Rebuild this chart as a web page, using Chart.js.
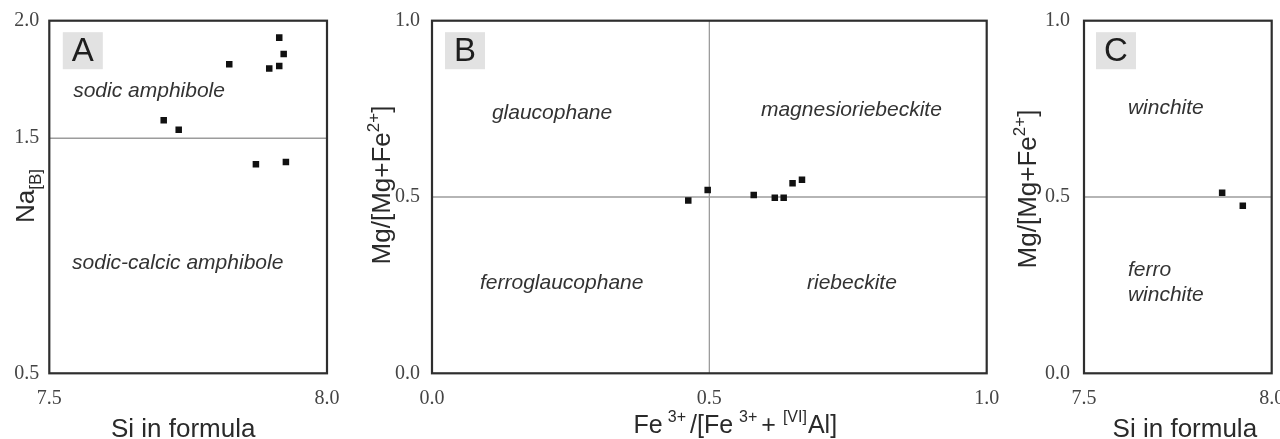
<!DOCTYPE html>
<html><head><meta charset="utf-8">
<script src="https://cdn.jsdelivr.net/npm/chart.js@4.4.1/dist/chart.umd.min.js"></script>
<style>
html,body{margin:0;padding:0;background:#fff;}
#wrap{position:relative;width:1280px;height:439px;overflow:hidden;background:#fff;}
canvas{position:absolute;top:0;}
</style></head><body>
<div id="wrap">
<canvas id="cA" width="345" height="439" style="left:0px"></canvas>
<canvas id="cB" width="660" height="439" style="left:345px"></canvas>
<canvas id="cC" width="275" height="439" style="left:1005px"></canvas>
</div>
<script>
// ---- Data ----
// Panel A: Si in formula vs Na[B]
const siA = [7.914, 7.922, 7.824, 7.896, 7.914, 7.706, 7.733, 7.872, 7.926];
const naA = [1.928, 1.858, 1.815, 1.797, 1.807, 1.576, 1.536, 1.389, 1.399];
// Panel B: Fe3+/[Fe3+ + VIAl] vs Mg/[Mg+Fe2+]
const feB = [0.462, 0.497, 0.580, 0.618, 0.634, 0.650, 0.667];
const mgB = [0.490, 0.520, 0.506, 0.498, 0.498, 0.539, 0.549];
// Panel C: Si in formula vs Mg/[Mg+Fe2+]
const siC = [7.868, 7.923];
const mgC = [0.512, 0.475];

// Axis ranges and tick labels
const siRange = [7.5, 8.0];
const naRange = [0.5, 2.0];
const unitRange = [0.0, 1.0];
const siTicks = [7.5, 8.0];
const naTicks = [0.5, 1.5, 2.0];
const unitTicks = [0.0, 0.5, 1.0];

// Field boundaries
const naBoundary = 1.5;
const mgBoundary = 0.5;
const feBoundary = 0.5;

// Field names
const fieldsA = ["sodic amphibole", "sodic-calcic amphibole"];
const fieldsB = ["glaucophane", "ferroglaucophane", "magnesioriebeckite", "riebeckite"];
const fieldsC = ["winchite", "ferro", "winchite"];
const panelLetters = ["A", "B", "C"];

// ---- Rendering ----
const SANS = '"Liberation Sans", Arial, sans-serif';
const SERIF = '"Liberation Serif", "Times New Roman", serif';

function pts(xs, ys) { return xs.map((x, i) => ({x: x, y: ys[i]})); }

function drawRich(ctx, segs, cx, cy, rot, base) {
  ctx.save();
  ctx.translate(cx, cy);
  if (rot) ctx.rotate(-Math.PI / 2);
  const small = Math.round(base * 0.64);
  const fN = base + 'px ' + SANS, fS = small + 'px ' + SANS;
  let total = 0;
  const ws = segs.map(s => {
    ctx.font = s.k ? fS : fN;
    const w = ctx.measureText(s.t).width + (s.pad || 0);
    total += w; return w;
  });
  let x = -total / 2;
  const by = base * 0.36;
  ctx.textBaseline = 'alphabetic';
  ctx.textAlign = 'left';
  ctx.fillStyle = '#2a2a2a';
  segs.forEach((s, i) => {
    ctx.font = s.k ? fS : fN;
    const dy = s.k === 'sup' ? -base * 0.45 : (s.k === 'sub' ? base * 0.28 : 0);
    ctx.fillText(s.t, x, by + dy);
    x += ws[i];
  });
  ctx.restore();
}

function panelPlugin(p) {
  return {
    id: 'panel' + p.letter,
    beforeDatasetsDraw(chart) {
      const ctx = chart.ctx, a = chart.chartArea;
      const xs = chart.scales.x, ys = chart.scales.y;
      ctx.save();
      ctx.fillStyle = '#e2e2e2';
      ctx.fillRect(a.left + p.boxDx, a.top + 11.5, 40, 37);
      ctx.fillStyle = '#1e1e1e';
      ctx.font = '33px ' + SANS;
      ctx.textAlign = 'center';
      ctx.textBaseline = 'middle';
      ctx.fillText(p.letter, a.left + p.boxDx + 20, a.top + 11.5 + 20);
      ctx.font = 'italic 21px ' + SANS;
      ctx.fillStyle = '#333';
      ctx.textAlign = 'left';
      ctx.textBaseline = 'middle';
      p.labels.forEach(l => {
        ctx.fillText(l.t, xs.getPixelForValue(l.x), ys.getPixelForValue(l.y));
      });
      ctx.restore();
    },
    afterDraw(chart) {
      const ctx = chart.ctx, a = chart.chartArea;
      ctx.save();
      ctx.strokeStyle = '#2e2e2e';
      ctx.lineWidth = 2.2;
      ctx.strokeRect(a.left, a.top, a.right - a.left, a.bottom - a.top);
      ctx.restore();
      const cxm = (a.left + a.right) / 2, cym = (a.top + a.bottom) / 2;
      drawRich(ctx, p.xTitle, cxm + p.xtDx, a.bottom + p.xtDy, false, p.xtSize);
      drawRich(ctx, p.yTitle, a.left + p.ytDx, cym + p.ytDy, true, p.ytSize);
    }
  };
}

function makeChart(id, p) {
  const tickFont = {family: SERIF, size: 20};
  return new Chart(document.getElementById(id), {
    type: 'scatter',
    data: {
      datasets: p.lines.map(l => ({
        type: 'line', data: l, borderColor: '#9c9c9c', borderWidth: 1.3,
        pointRadius: 0, fill: false, order: 2
      })).concat([{
        data: p.points, pointStyle: 'rect', pointRadius: 4.6,
        backgroundColor: '#111', borderWidth: 0, order: 0
      }])
    },
    options: {
      responsive: false, animation: false, devicePixelRatio: 1,
      layout: {padding: {top: 20.7, right: p.rightPad, left: 0, bottom: 0}},
      plugins: {legend: {display: false}, tooltip: {enabled: false}},
      events: [],
      scales: {
        x: {
          type: 'linear', min: p.xRange[0], max: p.xRange[1],
          afterBuildTicks: s => { s.ticks = p.xTicks.map(v => ({value: v})); },
          afterFit: s => { s.height = 439 - 373.3; s.paddingLeft = 0; s.paddingRight = 0; },
          grid: {display: false, drawTicks: false}, border: {display: false},
          ticks: {font: tickFont, color: '#444', padding: 13, autoSkip: false,
                  maxRotation: 0, callback: v => Number(v).toFixed(1)}
        },
        y: {
          type: 'linear', min: p.yRange[0], max: p.yRange[1],
          afterBuildTicks: s => { s.ticks = p.yTicks.map(v => ({value: v})); },
          afterFit: s => { s.width = p.yWidth; s.paddingTop = 0; s.paddingBottom = 0; },
          grid: {display: false, drawTicks: false}, border: {display: false},
          ticks: {font: tickFont, color: '#444', padding: p.yPad, autoSkip: false,
                  callback: v => Number(v).toFixed(1)}
        }
      }
    },
    plugins: [panelPlugin(p)]
  });
}

const mgTitle = [{t: 'Mg/[Mg+Fe'}, {t: '2+', k: 'sup'}, {t: ']'}];
const siTitle = [{t: 'Si in formula'}];

makeChart('cA', {
  letter: panelLetters[0], boxDx: 13.5,
  points: pts(siA, naA),
  lines: [[{x: siRange[0], y: naBoundary}, {x: siRange[1], y: naBoundary}]],
  xRange: siRange, yRange: naRange, xTicks: siTicks, yTicks: naTicks,
  yWidth: 49.3, rightPad: 345 - 327, yPad: 10,
  labels: [
    {t: fieldsA[0], x: 7.543, y: 1.701},
    {t: fieldsA[1], x: 7.541, y: 0.969}
  ],
  xTitle: siTitle, xtDx: -5, xtDy: 54, xtSize: 26,
  yTitle: [{t: 'Na'}, {t: '[B]', k: 'sub'}], ytDx: -24.5, ytDy: -1, ytSize: 26
});

makeChart('cB', {
  letter: panelLetters[1], boxDx: 13,
  points: pts(feB, mgB),
  lines: [[{x: unitRange[0], y: mgBoundary}, {x: unitRange[1], y: mgBoundary}],
          [{x: feBoundary, y: unitRange[0]}, {x: feBoundary, y: unitRange[1]}]],
  xRange: unitRange, yRange: unitRange, xTicks: unitTicks, yTicks: unitTicks,
  yWidth: 432 - 345, rightPad: 1005 - 986.7, yPad: 12,
  labels: [
    {t: fieldsB[0], x: 0.108, y: 0.738},
    {t: fieldsB[1], x: 0.0865, y: 0.256},
    {t: fieldsB[2], x: 0.593, y: 0.747},
    {t: fieldsB[3], x: 0.676, y: 0.256}
  ],
  xTitle: [{t: 'Fe', pad: 5}, {t: '3+', k: 'sup', pad: 4}, {t: '/[Fe', pad: 6},
           {t: '3+', k: 'sup', pad: 4}, {t: '+', pad: 7}, {t: '[VI]', k: 'sup', pad: 1}, {t: 'Al]'}],
  xtDx: 26, xtDy: 51, xtSize: 25,
  yTitle: mgTitle, ytDx: -51, ytDy: -12, ytSize: 26
});

makeChart('cC', {
  letter: panelLetters[2], boxDx: 12,
  points: pts(siC, mgC),
  lines: [[{x: siRange[0], y: mgBoundary}, {x: siRange[1], y: mgBoundary}]],
  xRange: siRange, yRange: unitRange, xTicks: siTicks, yTicks: unitTicks,
  yWidth: 1084 - 1005, rightPad: 1280 - 1271.7, yPad: 14,
  labels: [
    {t: fieldsC[0], x: 7.617, y: 0.752},
    {t: fieldsC[1], x: 7.617, y: 0.293},
    {t: fieldsC[2], x: 7.617, y: 0.222}
  ],
  xTitle: siTitle, xtDx: 7, xtDy: 54, xtSize: 26,
  yTitle: mgTitle, ytDx: -57, ytDy: -8, ytSize: 26
});
</script>
</body></html>
